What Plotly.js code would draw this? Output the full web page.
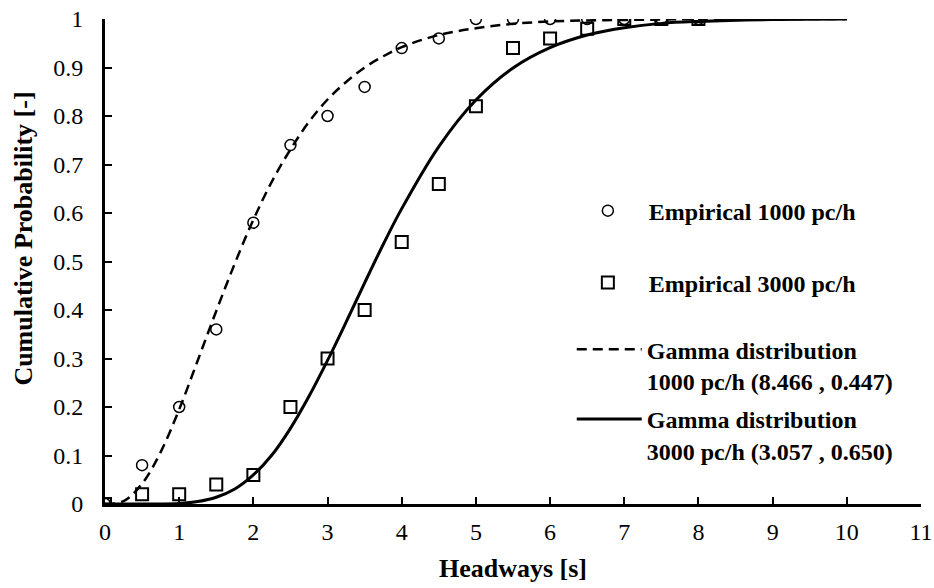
<!DOCTYPE html>
<html>
<head>
<meta charset="utf-8">
<script src="https://cdn.plot.ly/plotly-3.0.1.min.js"></script>
<style>html,body{margin:0;padding:0;background:#fff;}#chart{width:934px;height:588px;}</style>
</head>
<body>
<div id="chart"></div>
<script>
// Empirical observations
var empX = [0, 0.5, 1, 1.5, 2, 2.5, 3, 3.5, 4, 4.5, 5, 5.5, 6, 6.5, 7, 7.5, 8];
var emp1000 = [0, 0.08, 0.20, 0.36, 0.58, 0.74, 0.80, 0.86, 0.94, 0.96, 1, 1, 1, 1, 1, 1, 1];
var emp3000 = [0, 0.02, 0.02, 0.04, 0.06, 0.20, 0.30, 0.40, 0.54, 0.66, 0.82, 0.94, 0.96, 0.98, 1, 1, 1];

// Fitted curves
var fitX = [0, 0.25, 0.5, 0.75, 1, 1.25, 1.5, 1.75, 2, 2.25, 2.5, 2.75, 3, 3.25, 3.5, 3.75, 4, 4.5, 5, 5.5, 6, 6.5, 7, 7.5, 8, 9, 10];
var fit1000 = [0, 0.006, 0.042, 0.107, 0.195, 0.296, 0.398, 0.496, 0.586, 0.665, 0.731, 0.788, 0.834, 0.870, 0.900, 0.923, 0.942, 0.967, 0.981, 0.990, 0.995, 0.997, 0.998, 0.999, 1, 1, 1];
var fit3000 = [0, 0, 0, 0, 0.001, 0.005, 0.014, 0.031, 0.060, 0.101, 0.156, 0.222, 0.296, 0.375, 0.456, 0.535, 0.609, 0.737, 0.833, 0.899, 0.941, 0.967, 0.982, 0.991, 0.995, 0.999, 1];

var xTicks = [0, 1, 2, 3, 4, 5, 6, 7, 8, 9, 10, 11];
var yTicks = [0, 0.1, 0.2, 0.3, 0.4, 0.5, 0.6, 0.7, 0.8, 0.9, 1];
var names = ['Empirical 1000 pc/h', 'Empirical 3000 pc/h',
  'Gamma distribution<br>1000 pc/h (8.466 , 0.447)',
  'Gamma distribution<br>3000 pc/h (3.057 , 0.650)'];
var xTitle = 'Headways [s]';
var yTitle = 'Cumulative Probability [-]';

var FONT = 'Times New Roman, Liberation Serif, serif';

var traces = [
  {x: fitX, y: fit1000, mode: 'lines', name: names[2], legend: 'legend3',
   line: {color: '#000', width: 2.5, dash: '10px,6px', shape: 'spline'}},
  {x: fitX, y: fit3000, mode: 'lines', name: names[3], legend: 'legend4',
   line: {color: '#000', width: 3, shape: 'spline'}},
  {x: empX, y: emp1000, mode: 'markers', name: names[0], legend: 'legend',
   marker: {symbol: 'circle-open', size: 11, color: '#000', line: {width: 1.5, color: '#000'}}},
  {x: empX, y: emp3000, mode: 'markers', name: names[1], legend: 'legend2',
   marker: {symbol: 'square-open', size: 12, color: '#000', line: {width: 2, color: '#000'}}}
];

function leg(x, y, yanchor, w) {
  return {x: x, y: y, xanchor: 'left', yanchor: yanchor, bgcolor: 'rgba(0,0,0,0)',
    borderwidth: 0, itemwidth: w, valign: 'top', itemclick: false,
    font: {family: FONT, size: 24, color: '#000', weight: 'bold'}};
}

var layout = {
  width: 934, height: 588,
  margin: {l: 105, r: 13, t: 19, b: 84},
  paper_bgcolor: '#fff', plot_bgcolor: '#fff',
  font: {family: FONT, color: '#000', size: 24},
  showlegend: true,
  legend: leg(0.566, 0.604, 'middle', 72),
  legend2: leg(0.566, 0.456, 'middle', 72),
  legend3: leg(0.572, 0.3645, 'top', 65),
  legend4: leg(0.572, 0.2206, 'top', 65),
  xaxis: {
    range: [0, 11], tickvals: xTicks, ticktext: xTicks.map(String),
    showline: true, linewidth: 3, linecolor: '#000', mirror: false,
    ticks: 'inside', ticklen: 7, tickwidth: 2, tickcolor: '#000',
    showgrid: false, zeroline: false, ticklabelstandoff: 4,
    ticklabeloverflow: 'allow',
    tickfont: {family: FONT, size: 24, color: '#000'},
    title: {text: xTitle, standoff: 16, font: {family: FONT, size: 26, color: '#000', weight: 'bold'}}
  },
  yaxis: {
    range: [0, 1], tickvals: yTicks, ticktext: yTicks.map(String),
    showline: true, linewidth: 3, linecolor: '#000',
    ticks: 'inside', ticklen: 7, tickwidth: 2, tickcolor: '#000',
    showgrid: false, zeroline: false, ticklabelstandoff: 14,
    tickfont: {family: FONT, size: 24, color: '#000'}
  },
  annotations: [{
    text: yTitle, textangle: -90, xref: 'paper', yref: 'paper',
    x: -0.100, y: 0.548, xanchor: 'center', yanchor: 'middle', showarrow: false,
    font: {family: FONT, size: 26, color: '#000', weight: 'bold'}
  }]
};

Plotly.newPlot('chart', traces, layout, {displayModeBar: false, staticPlot: true});
</script>
</body>
</html>
